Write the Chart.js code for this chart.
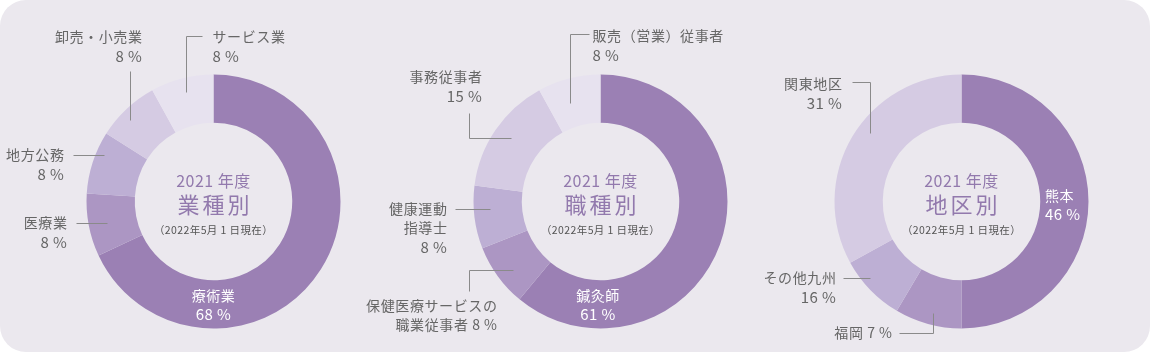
<!DOCTYPE html>
<html>
<head>
<meta charset="utf-8">
<script src="https://cdn.jsdelivr.net/npm/chart.js@4"></script>
<style>
  html, body { margin: 0; padding: 0; background: #fff; }
  #panel { position: relative; width: 1150px; height: 352px; background: #ebe8ee; border-radius: 26px; overflow: hidden; }
  canvas { position: absolute; top: 0; left: 0; }
</style>
</head>
<body>
<div id="panel">
  <canvas id="industryChart" width="1150" height="352"></canvas>
  <canvas id="jobChart" width="1150" height="352"></canvas>
  <canvas id="regionChart" width="1150" height="352"></canvas>
</div>
<script>
// 業種別
const industryLabels = ['療術業', '医療業', '地方公務', '卸売・小売業', 'サービス業'];
const industryValues = [68, 8, 8, 8, 8];

// 職種別
const jobLabels = ['鍼灸師', '保健医療サービスの職業従事者', '健康運動指導士', '事務従事者', '販売（営業）従事者'];
const jobValues = [61, 8, 8, 15, 8];

// 地区別 - printed percentages, and the slice sizes as they are drawn in the original
const regionLabels = ['熊本', '福岡', 'その他九州', '関東地区'];
const regionValues = [46, 7, 16, 31];
const regionSlices = [50, 8.5, 8.5, 33];

const shades = ['#9b80b4', '#ac96c3', '#bdafd4', '#d5cbe3', '#e7e2ef'];
const FONT = '"Noto Sans CJK JP", "Noto Sans", sans-serif';
const pct = v => v + '\u2009%';

// callout placement, relative to the donut centre
const industryCallouts = [
  { i: 0, inside: true, x: 0, y: 94, lines: ['療術業'] },
  { i: 1, align: 'right', x: -146, y: 21.5, lines: ['医療業'], leader: [[-138, 21.5], [-107, 21.5]] },
  { i: 2, align: 'right', x: -149, y: -46.5, lines: ['地方公務'], leader: [[-141, -47], [-110, -47]] },
  { i: 3, align: 'right', x: -71, y: -165, lines: ['卸売・小売業'], leader: [[-83.5, -131], [-83.5, -82]] },
  { i: 4, align: 'left', x: -1, y: -165, lines: ['サービス業'], leader: [[-11.5, -166], [-28, -166], [-28, -110]] }
];
const jobCallouts = [
  { i: 0, inside: true, x: -2.5, y: 94, lines: ['鍼灸師'] },
  { i: 1, align: 'right', x: -103, y: 104, lines: ['保健医療サービスの', '職業従事者'], inline: true,
    leader: [[-87.5, 68], [-131.5, 68], [-131.5, 89]] },
  { i: 2, align: 'right', x: -153, y: 7, lines: ['健康運動', '指導士'], leader: [[-145.5, 7], [-110.5, 7]] },
  { i: 3, align: 'right', x: -118, y: -124.5, lines: ['事務従事者'], leader: [[-131.5, -89], [-131.5, -64], [-89.5, -64]] },
  { i: 4, align: 'left', x: -8, y: -166, lines: ['販売（営業）従事者'], leader: [[-12, -168], [-31, -168], [-31, -99]] }
];
const regionCallouts = [
  { i: 0, inside: true, align: 'left', x: 83.5, y: -6, lines: ['熊本'] },
  { i: 1, align: 'right', x: -69, y: 131, lines: ['福岡'], inline: true, leader: [[-62.5, 131], [-28.5, 131], [-28.5, 111]] },
  { i: 2, align: 'right', x: -125, y: 76, lines: ['その他九州'], leader: [[-118.5, 76], [-91.5, 76]] },
  { i: 3, align: 'right', x: -119, y: -118, lines: ['関東地区'], leader: [[-109.5, -120], [-91.5, -120], [-91.5, -69]] }
];

const calloutPlugin = {
  id: 'callouts',
  afterDraw(chart, args, opts) {
    const ctx = chart.ctx;
    const a = chart.chartArea;
    const cx = (a.left + a.right) / 2, cy = (a.top + a.bottom) / 2;
    ctx.save();
    ctx.textBaseline = 'middle';

    // centre titles
    ctx.textAlign = 'center';
    ctx.fillStyle = '#9279ad';
    ctx.font = '16px ' + FONT;
    ctx.letterSpacing = '0.5px';
    ctx.fillText('2021 年度', cx, cy - 21);
    ctx.font = '22px ' + FONT;
    ctx.letterSpacing = '3px';
    ctx.fillText(opts.title, cx + 1.5, cy + 3);
    ctx.font = '10.5px ' + FONT;
    ctx.letterSpacing = '0.4px';
    ctx.fillStyle = '#555';
    ctx.fillText('（2022年5月 1 日現在）', cx, cy + 28.5);

    opts.callouts.forEach(c => {
      const value = pct(opts.values[c.i]);
      const lines = c.inline
        ? c.lines.slice(0, -1).concat([c.lines[c.lines.length - 1] + ' ' + value])
        : c.lines.concat([value]);
      if (c.leader) {
        ctx.strokeStyle = '#8a8a8a';
        ctx.lineWidth = 1;
        ctx.beginPath();
        c.leader.forEach((p, k) => {
          const px = Math.round(cx + p[0]) + 0.5, py = Math.round(cy + p[1]) + 0.5;
          if (k === 0) ctx.moveTo(px, py); else ctx.lineTo(px, py);
        });
        ctx.stroke();
      }
      ctx.textAlign = c.align || 'center';
      ctx.fillStyle = c.inside ? '#ffffff' : '#666666';
      ctx.letterSpacing = c.inside ? '0.5px' : '0.6px';
      lines.forEach((t, k) => {
        const isPct = !c.inline && k === lines.length - 1;
        ctx.font = (isPct ? '15px ' : '14px ') + FONT;
        ctx.fillText(t, cx + c.x, cy + c.y + k * (c.inside ? 18.5 : 19.5));
      });
    });
    ctx.restore();
  }
};

function makeDonut(id, centreX, labels, slices, values, title, callouts) {
  const r = 127, cy = 201.5, W = 1150, H = 352;
  return new Chart(document.getElementById(id), {
    type: 'doughnut',
    data: {
      labels: labels,
      datasets: [{
        data: slices,
        backgroundColor: shades.slice(0, slices.length),
        borderWidth: 0
      }]
    },
    options: {
      responsive: false,
      animation: false,
      events: [],
      cutout: '62%',
      layout: { padding: { left: centreX - r, right: W - centreX - r, top: cy - r, bottom: H - cy - r } },
      plugins: {
        legend: { display: false },
        tooltip: { enabled: false },
        callouts: { title: title, values: values, callouts: callouts }
      }
    },
    plugins: [calloutPlugin]
  });
}

makeDonut('industryChart', 213.5, industryLabels, industryValues, industryValues, '業種別', industryCallouts);
makeDonut('jobChart', 600.5, jobLabels, jobValues, jobValues, '職種別', jobCallouts);
makeDonut('regionChart', 961.5, regionLabels, regionSlices, regionValues, '地区別', regionCallouts);
</script>
</body>
</html>
